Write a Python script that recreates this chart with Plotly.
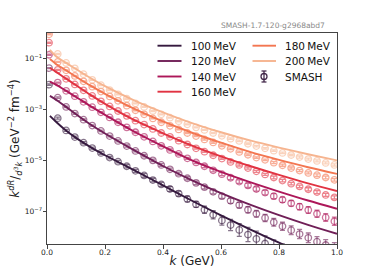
import plotly.graph_objects as go

# ---------------- data ----------------
temps = ["100\u2009MeV", "120\u2009MeV", "140\u2009MeV", "160\u2009MeV", "180\u2009MeV", "200\u2009MeV"]
colors = ["#35193e", "#701f57", "#ad1759", "#e13342", "#f37651", "#f6b48f"]

# thermal-rate curves (log10 of k dR/d^3k)
k_line = [0.01, 0.03, 0.06, 0.1, 0.15, 0.2, 0.3, 0.4, 0.5, 0.6, 0.7, 0.8, 0.9, 1.0]
line_100 = [-3.26, -3.48, -3.78, -4.12, -4.48, -4.80, -5.38, -5.98, -6.58, -7.15, -7.70, -8.22, -8.72, -9.20]
line_120 = [-2.48, -2.62, -2.86, -3.20, -3.60, -3.95, -4.60, -5.22, -5.78, -6.28, -6.73, -7.14, -7.52, -7.87]
line_140 = [-1.92, -2.03, -2.24, -2.52, -2.88, -3.22, -3.87, -4.45, -5.00, -5.45, -5.85, -6.22, -6.57, -6.89]
line_160 = [-1.39, -1.53, -1.76, -2.06, -2.44, -2.79, -3.42, -3.94, -4.42, -4.84, -5.22, -5.57, -5.90, -6.20]
line_180 = [-1.04, -1.22, -1.44, -1.73, -2.08, -2.40, -2.98, -3.48, -3.92, -4.31, -4.67, -4.98, -5.27, -5.53]
line_200 = [-0.68, -0.92, -1.15, -1.43, -1.78, -2.10, -2.65, -3.12, -3.54, -3.90, -4.22, -4.50, -4.76, -5.00]

# SMASH points (log10)
k_smash = [0.007, 0.037, 0.066, 0.096, 0.126, 0.156, 0.186, 0.216, 0.245, 0.275,
           0.305, 0.335, 0.365, 0.394, 0.424, 0.454, 0.484, 0.514, 0.543, 0.573,
           0.603, 0.633, 0.663, 0.693, 0.722, 0.752, 0.782, 0.812, 0.842, 0.871,
           0.901, 0.931, 0.961, 0.991]
smash_100 = [-2.04, -3.35, -3.83, -4.09, -4.31, -4.52, -4.71, -4.89, -5.05, -5.23,
             -5.41, -5.59, -5.77, -5.94, -6.12, -6.30, -6.51, -6.72, -6.93, -7.13,
             -7.35, -7.53, -7.72, -7.90, -8.07, -8.25, -8.43, -8.60, -8.78, -8.95,
             -9.10, -9.25, -9.40, -9.55]
smash_120 = [-1.39, -2.55, -2.91, -3.17, -3.41, -3.64, -3.85, -4.05, -4.24, -4.44,
             -4.63, -4.82, -5.00, -5.18, -5.35, -5.52, -5.70, -5.88, -6.05, -6.23,
             -6.40, -6.58, -6.75, -6.93, -7.09, -7.25, -7.42, -7.58, -7.73, -7.88,
             -8.03, -8.18, -8.31, -8.44]
smash_140 = [-0.87, -1.96, -2.28, -2.49, -2.71, -2.92, -3.12, -3.32, -3.51, -3.71,
             -3.90, -4.08, -4.26, -4.43, -4.59, -4.75, -4.92, -5.08, -5.23, -5.39,
             -5.54, -5.68, -5.83, -5.98, -6.12, -6.26, -6.40, -6.54, -6.68, -6.81,
             -6.94, -7.09, -7.23, -7.38]
smash_160 = [-0.40, -1.46, -1.81, -2.03, -2.26, -2.48, -2.69, -2.89, -3.07, -3.26,
             -3.45, -3.60, -3.77, -3.93, -4.08, -4.23, -4.38, -4.53, -4.66, -4.80,
             -4.93, -5.06, -5.18, -5.30, -5.43, -5.55, -5.67, -5.79, -5.91, -6.02,
             -6.13, -6.24, -6.35, -6.45]
smash_180 = [-0.07, -1.15, -1.48, -1.70, -1.91, -2.12, -2.31, -2.50, -2.67, -2.86,
             -3.04, -3.20, -3.36, -3.51, -3.65, -3.79, -3.93, -4.05, -4.18, -4.30,
             -4.43, -4.55, -4.67, -4.78, -4.89, -4.98, -5.09, -5.19, -5.30, -5.40,
             -5.49, -5.58, -5.67, -5.76]
smash_200 = [0.27, -0.84, -1.19, -1.40, -1.63, -1.85, -2.06, -2.25, -2.42, -2.59,
             -2.77, -2.91, -3.07, -3.20, -3.33, -3.47, -3.59, -3.71, -3.81, -3.93,
             -4.04, -4.15, -4.24, -4.35, -4.44, -4.53, -4.62, -4.71, -4.79, -4.87,
             -4.95, -5.02, -5.10, -5.18]

# error half-widths (in decades)
err_100 = [0.03, 0.04, 0.04, 0.04, 0.04, 0.04, 0.05, 0.05, 0.05, 0.06,
           0.06, 0.07, 0.07, 0.08, 0.09, 0.10, 0.11, 0.12, 0.14, 0.16,
           0.18, 0.22, 0.25, 0.28, 0.30, 0.30, 0.32, 0.33, 0.33, 0.35,
           0.35, 0.35, 0.35, 0.35]
err_120 = [0.02, 0.03, 0.03, 0.03, 0.03, 0.03, 0.03, 0.03, 0.04, 0.04,
           0.04, 0.04, 0.05, 0.05, 0.05, 0.06, 0.06, 0.07, 0.07, 0.08,
           0.09, 0.10, 0.11, 0.12, 0.13, 0.14, 0.15, 0.16, 0.17, 0.18,
           0.19, 0.20, 0.21, 0.22]
err_140 = [0.02, 0.02, 0.02, 0.02, 0.02, 0.02, 0.02, 0.02, 0.03, 0.03,
           0.03, 0.03, 0.03, 0.03, 0.04, 0.04, 0.04, 0.05, 0.05, 0.06,
           0.06, 0.07, 0.07, 0.08, 0.08, 0.09, 0.10, 0.10, 0.11, 0.12,
           0.13, 0.14, 0.15, 0.16]
err_160 = [0.02, 0.02, 0.02, 0.02, 0.02, 0.02, 0.02, 0.02, 0.02, 0.02,
           0.02, 0.02, 0.02, 0.02, 0.03, 0.03, 0.03, 0.03, 0.03, 0.03,
           0.03, 0.04, 0.04, 0.04, 0.04, 0.04, 0.05, 0.05, 0.05, 0.05,
           0.06, 0.06, 0.06, 0.06]
err_180 = [0.02, 0.02, 0.02, 0.02, 0.02, 0.02, 0.02, 0.02, 0.02, 0.02,
           0.02, 0.02, 0.02, 0.02, 0.02, 0.02, 0.02, 0.02, 0.03, 0.03,
           0.03, 0.03, 0.03, 0.03, 0.03, 0.03, 0.04, 0.04, 0.04, 0.04,
           0.04, 0.05, 0.05, 0.05]
err_200 = [0.02, 0.02, 0.02, 0.02, 0.02, 0.02, 0.02, 0.02, 0.02, 0.02,
           0.02, 0.02, 0.02, 0.02, 0.02, 0.02, 0.02, 0.02, 0.02, 0.02,
           0.03, 0.03, 0.03, 0.03, 0.03, 0.03, 0.03, 0.03, 0.03, 0.04,
           0.04, 0.04, 0.04, 0.04]

x_ticks = [0.0, 0.2, 0.4, 0.6, 0.8, 1.0]
y_ticks = [1e-7, 1e-5, 1e-3, 1e-1]
y_ticktext = ["10<sup>\u22127</sup>", "10<sup>\u22125</sup>", "10<sup>\u22123</sup>", "10<sup>\u22121</sup>"]
version_text = "SMASH-1.7-120-g2968abd7"
smash_label = "SMASH"

lines = [line_100, line_120, line_140, line_160, line_180, line_200]
smash = [smash_100, smash_120, smash_140, smash_160, smash_180, smash_200]
errs = [err_100, err_120, err_140, err_160, err_180, err_200]

FONT = "DejaVu Sans"
W, H = 374, 279
ML, MR, MT, MB = 47, 37, 33, 35
PW, PH = W - ML - MR, H - MT - MB


def rgba(hexc, a):
    h = hexc.lstrip("#")
    return "rgba(%d,%d,%d,%.2f)" % (int(h[0:2], 16), int(h[2:4], 16), int(h[4:6], 16), a)


def px(xp):  # pixel -> paper x
    return (xp - ML) / PW


def py(yp):  # pixel -> paper y
    return (H - MB - yp) / PH


fig = go.Figure()

for i in range(6):
    y = [10 ** v for v in smash[i]]
    up = [10 ** v * (10 ** e - 1) for v, e in zip(smash[i], errs[i])]
    dn = [10 ** v * (1 - 10 ** (-e)) for v, e in zip(smash[i], errs[i])]
    fig.add_trace(go.Scatter(
        x=k_smash, y=y, mode="markers", showlegend=False,
        marker=dict(symbol="circle-open", size=6.5, color=rgba(colors[i], 0.6),
                    line=dict(width=1.3, color=rgba(colors[i], 0.6))),
        error_y=dict(type="data", symmetric=False, array=up, arrayminus=dn,
                     color=rgba(colors[i], 0.6), thickness=1.3, width=2.5),
    ))

for i in range(6):
    fig.add_trace(go.Scatter(
        x=k_line, y=[10 ** v for v in lines[i]], mode="lines", showlegend=False,
        line=dict(color=colors[i], width=1.9, shape="spline", smoothing=0.8),
        name=temps[i],
    ))

# ---- legend drawn by hand (matplotlib-like two columns) ----
shapes = []
annotations = []
row_y = [45.7, 61.0, 76.5, 91.7]
for i in range(6):
    if i < 4:
        x0, x1, xt, yy = 157.5, 181.5, 188.5, row_y[i]
    else:
        x0, x1, xt, yy = 252.5, 276.0, 283.3, row_y[i - 4]
    shapes.append(dict(type="line", xref="paper", yref="paper",
                       x0=px(x0), x1=px(x1), y0=py(yy), y1=py(yy),
                       line=dict(color=colors[i], width=1.9)))
    annotations.append(dict(text=temps[i], xref="paper", yref="paper", x=px(xt), y=py(yy),
                            xanchor="left", yanchor="middle", showarrow=False,
                            font=dict(family=FONT, size=10.5, color="#111")))
# SMASH icon
cx, cy = 264.0, row_y[2]
shapes.append(dict(type="circle", xref="paper", yref="paper",
                   x0=px(cx - 3), x1=px(cx + 3), y0=py(cy + 3), y1=py(cy - 3),
                   line=dict(color=rgba(colors[0], 0.9), width=1.3)))
shapes.append(dict(type="line", xref="paper", yref="paper",
                   x0=px(cx), x1=px(cx), y0=py(cy + 5.5), y1=py(cy - 5.5),
                   line=dict(color=rgba(colors[0], 0.9), width=1.3)))
for dy in (-5.5, 5.5):
    shapes.append(dict(type="line", xref="paper", yref="paper",
                       x0=px(cx - 2.5), x1=px(cx + 2.5), y0=py(cy + dy), y1=py(cy + dy),
                       line=dict(color=rgba(colors[0], 0.9), width=1.3)))
annotations.append(dict(text=smash_label, xref="paper", yref="paper", x=px(283.3), y=py(cy),
                        xanchor="left", yanchor="middle", showarrow=False,
                        font=dict(family=FONT, size=10.5, color="#111")))
annotations.append(dict(text=version_text, xref="paper", yref="paper", x=px(327), y=py(25),
                        xanchor="right", yanchor="middle", showarrow=False,
                        font=dict(family=FONT, size=7.5, color="#888")))

axis_common = dict(showline=True, linecolor="#444", linewidth=1, mirror=True,
                   ticks="outside", ticklen=3.5, tickwidth=0.8, tickcolor="#444",
                   showgrid=False, zeroline=False, automargin=False,
                   tickfont=dict(family=FONT, size=7.5, color="#222"))

fig.update_layout(
    width=W, height=H,
    margin=dict(l=ML, r=MR, t=MT, b=MB, autoexpand=False),
    paper_bgcolor="white", plot_bgcolor="white",
    font=dict(family=FONT, color="#222"),
    showlegend=False,
    xaxis=dict(range=[0, 1], tickvals=x_ticks, ticktext=["%.1f" % v for v in x_ticks],
               ticklabelstandoff=-3,
               title=dict(text="<i>k</i> (GeV)", font=dict(family=FONT, size=12), standoff=1),
               **axis_common),
    yaxis=dict(type="log", range=[-8.27, -0.02], tickvals=y_ticks, ticktext=y_ticktext,
               ticklabelstandoff=-1,
               title=dict(text="<i>k</i><sup><i>dR</i></sup>/<sub><i>d</i><sup>3</sup><i>k</i></sub> (GeV<sup>\u22122</sup> fm<sup>\u22124</sup>)",
                          font=dict(family=FONT, size=12), standoff=2),
               **axis_common),
    shapes=shapes,
    annotations=annotations,
)

fig.write_html("out.html", config={"displayModeBar": False},
               post_script="document.body.style.margin='0';document.body.style.padding='0';")
